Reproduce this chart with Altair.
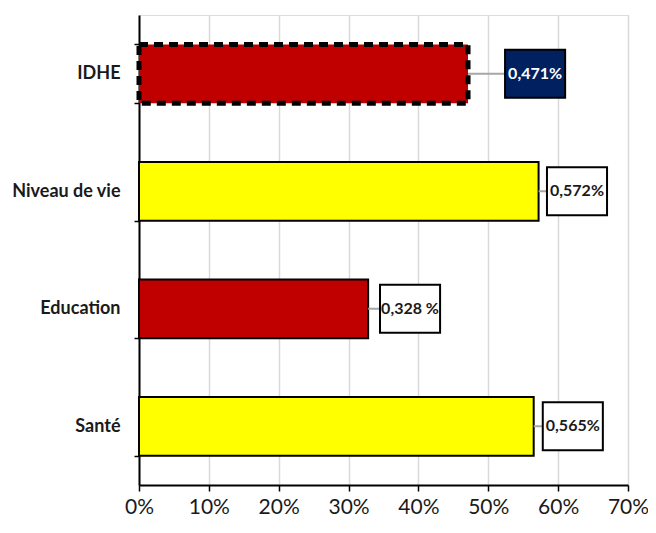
import altair as alt
import pandas as pd

categories = ["IDHE", "Niveau de vie", "Education", "Santé"]
values = [47.1, 57.2, 32.8, 56.5]
labels = ["0,471%", "0,572%", "0,328 %", "0,565%"]
bar_fill = ["#C00000", "#FFFF00", "#C00000", "#FFFF00"]
box_fill = ["#002060", "#FFFFFF", "#FFFFFF", "#FFFFFF"]
text_color = ["#FFFFFF", "#1A1A1A", "#1A1A1A", "#1A1A1A"]
box_lo = [52.4, 58.4, 34.5, 57.8]
box_hi = [61.0, 67.0, 43.1, 66.4]

df = pd.DataFrame({
    "cat": categories, "val": values, "lab": labels,
    "fill": bar_fill, "bfill": box_fill, "tcol": text_color,
    "lo": box_lo, "hi": box_hi,
})
df["mid"] = (df["lo"] + df["hi"]) / 2

FONT = "Lato"

y = alt.Y("cat:N", sort=categories, title=None,
          scale=alt.Scale(paddingInner=0.5, paddingOuter=0.25),
          axis=alt.Axis(labelFont=FONT, labelFontSize=18, labelFontWeight="bold",
                        labelColor="#1A1A1A", labelPadding=14, domainColor="black",
                        domainWidth=2, tickColor="black", tickWidth=1.5, tickSize=5,
                        tickBand="extent", grid=False, labelLimit=200))
xscale = alt.Scale(domain=[0, 70], nice=False, zero=True)
xaxis = alt.Axis(values=[0, 10, 20, 30, 40, 50, 60, 70], labelExpr="datum.value + '%'",
                 labelFont=FONT, labelFontSize=21, labelColor="#1A1A1A",
                 labelPadding=5, domainColor="black", domainWidth=2,
                 tickColor="black", tickWidth=1.5, tickSize=6,
                 grid=True, gridColor="#D9D9D9", gridWidth=1.5, labelFlush=False)

base = alt.Chart(df)

bars = base.transform_filter("datum.cat != 'IDHE'").mark_bar(
    stroke="black", strokeWidth=2).encode(
    y=y,
    x=alt.X("val:Q", scale=xscale, axis=xaxis, title=None),
    color=alt.Color("fill:N", scale=None),
)
idhe = base.transform_filter("datum.cat == 'IDHE'").mark_bar(
    stroke="black", strokeWidth=5, strokeDash=[9, 6]).encode(
    y=y,
    x=alt.X("val:Q", scale=xscale, axis=xaxis, title=None),
    color=alt.Color("fill:N", scale=None),
)
conn = base.mark_rule(color="#A6A6A6", strokeWidth=2).encode(
    y=y, x=alt.X("val:Q", scale=xscale), x2="lo:Q")
boxes = base.mark_bar(height=48, stroke="black", strokeWidth=2).encode(
    y=y, x=alt.X("lo:Q", scale=xscale), x2="hi:Q",
    color=alt.Color("bfill:N", scale=None))
texts = base.mark_text(font=FONT, fontSize=16, fontWeight="bold").encode(
    y=y, x=alt.X("mid:Q", scale=xscale), text="lab:N",
    color=alt.Color("tcol:N", scale=None))

chart = alt.layer(bars, idhe, conn, boxes, texts).properties(
    width=489, height=470,
    autosize=alt.AutoSizeParams(type="none"),
    padding={"left": 131, "top": 7, "right": 20, "bottom": 40},
).configure_view(stroke=None).configure(background="white")

chart.save("out.html", embed_options={"renderer": "svg", "actions": False})
